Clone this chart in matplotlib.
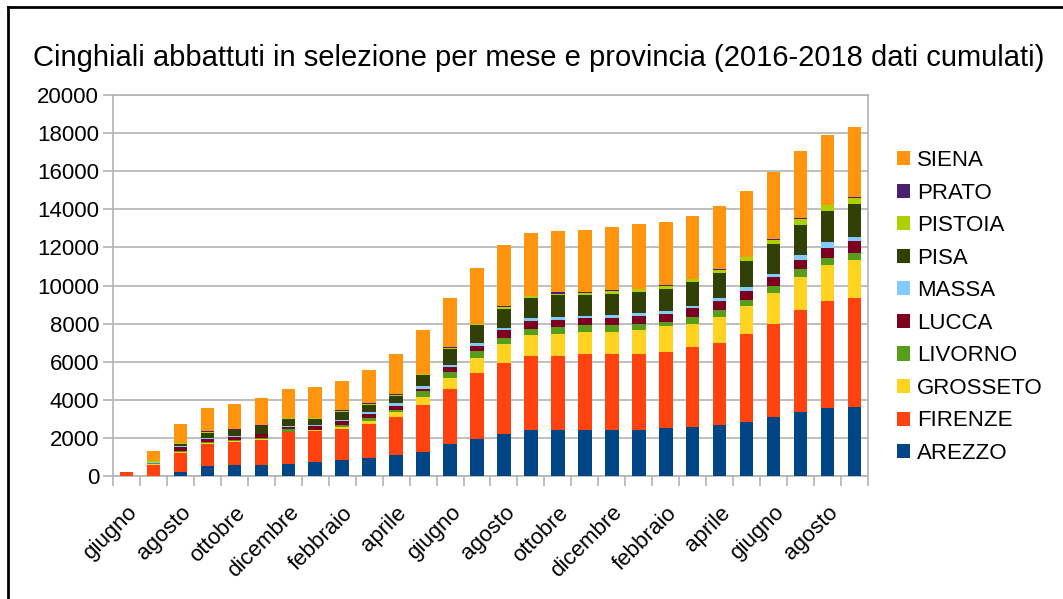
import matplotlib.pyplot as plt
import numpy as np

plt.rcParams['font.family'] = ['Liberation Sans', 'DejaVu Sans']

# Data (cumulated kills per month, June 2016 -> September 2018)
mesi = ['giugno', 'luglio', 'agosto', 'settembre', 'ottobre', 'novembre', 'dicembre',
        'gennaio', 'febbraio', 'marzo', 'aprile', 'maggio',
        'giugno', 'luglio', 'agosto', 'settembre', 'ottobre', 'novembre', 'dicembre',
        'gennaio', 'febbraio', 'marzo', 'aprile', 'maggio',
        'giugno', 'luglio', 'agosto', 'settembre']

arezzo = [0, 0, 230, 510, 580, 580, 640, 750, 830, 920, 1110, 1270, 1660, 1930, 2220, 2400,
          2400, 2400, 2400, 2400, 2500, 2590, 2680, 2820, 3100, 3380, 3560, 3640]
firenze = [200, 600, 1000, 1160, 1210, 1300, 1650, 1590, 1630, 1810, 2000, 2480, 2890, 3460, 3720, 3890,
           3890, 3990, 3990, 3990, 4000, 4170, 4320, 4620, 4890, 5340, 5630, 5690]
grosseto = [0, 20, 40, 80, 60, 60, 40, 50, 90, 140, 230, 400, 620, 830, 980, 1100,
            1190, 1180, 1180, 1260, 1350, 1240, 1370, 1460, 1640, 1720, 1900, 2020]
livorno = [0, 40, 50, 50, 50, 80, 130, 50, 140, 180, 140, 300, 290, 350, 350, 350,
           350, 350, 350, 350, 240, 370, 370, 350, 350, 440, 350, 350]
lucca = [0, 20, 210, 150, 130, 180, 110, 160, 210, 230, 210, 140, 280, 260, 380, 400,
         370, 360, 360, 390, 390, 470, 460, 470, 490, 470, 550, 650]
massa = [0, 60, 20, 50, 70, 30, 80, 100, 40, 70, 120, 110, 90, 170, 110, 140,
         170, 110, 160, 170, 190, 90, 170, 180, 140, 260, 270, 170]
pisa = [0, 20, 150, 260, 320, 370, 340, 290, 440, 380, 410, 600, 860, 930, 1000, 1040,
        1140, 1100, 1140, 1110, 1170, 1260, 1310, 1360, 1580, 1580, 1660, 1750]
pistoia = [0, 20, 50, 70, 20, 30, 40, 50, 50, 60, 50, 60, 50, 60, 120, 120,
           70, 140, 130, 130, 140, 130, 140, 220, 200, 310, 280, 310]
prato = [0, 0, 0, 10, 30, 40, 10, 20, 10, 20, 10, 20, 10, 10, 20, 20,
         90, 40, 40, 40, 40, 40, 40, 40, 40, 40, 40, 40]
siena = [0, 520, 1000, 1240, 1300, 1450, 1510, 1600, 1570, 1760, 2100, 2260, 2620, 2910, 3220, 3290,
         3170, 3250, 3300, 3380, 3290, 3270, 3330, 3450, 3510, 3540, 3680, 3720]

province = ['AREZZO', 'FIRENZE', 'GROSSETO', 'LIVORNO', 'LUCCA', 'MASSA', 'PISA', 'PISTOIA', 'PRATO', 'SIENA']
serie = [arezzo, firenze, grosseto, livorno, lucca, massa, pisa, pistoia, prato, siena]
colori = ['#004586', '#ff420e', '#ffd320', '#579d1c', '#7e0021', '#83caff',
          '#314004', '#aecf00', '#4b1f6f', '#ff950e']

fig = plt.figure(figsize=(10.63, 5.99), dpi=100)
ax = fig.add_axes([113 / 1063, 1 - 476 / 599, 755 / 1063, 381 / 599])

x = np.arange(len(mesi))
bottom = np.zeros(len(mesi))
handles = []
for nome, vals, col in zip(province, serie, colori):
    vals = np.array(vals, dtype=float)
    b = ax.bar(x, vals, 0.5, bottom=bottom, color=col, label=nome, zorder=3)
    handles.append(b)
    bottom += vals

ax.set_xlim(-0.5, len(mesi) - 0.5)
ax.set_ylim(0, 20000)
ax.set_yticks(np.arange(0, 20001, 2000))
ax.grid(axis='y', color='#b3b3b3', linewidth=1.2, zorder=0)
for s in ax.spines.values():
    s.set_color('#b3b3b3')
    s.set_linewidth(1.2)

# tick marks on category boundaries, labels every two months
ax.set_xticks(np.arange(-0.5, len(mesi), 1))
ax.set_xticklabels([])
ax.set_xticks(x[::2], minor=True)
ax.set_xticklabels(mesi[::2], minor=True, rotation=45, ha='right', rotation_mode='anchor')
ax.tick_params(axis='x', which='minor', length=0, pad=19, labelsize=16)
ax.tick_params(axis='x', which='major', length=7, color='#b3b3b3', width=1.2)
ax.tick_params(axis='y', length=7, color='#b3b3b3', width=1.2, labelsize=16, pad=3)

fig.text(33 / 1063, 1 - 58 / 599, 'Cinghiali abbattuti in selezione per mese e provincia (2016-2018 dati cumulati)',
         fontsize=21, ha='left', va='center')

ax.legend(handles[::-1], province[::-1], loc='center left', bbox_to_anchor=(877 / 1063, 1 - 307 / 599),
          bbox_transform=fig.transFigure, frameon=False, fontsize=16, labelspacing=0.52,
          handlelength=0.6, handleheight=0.6, handletextpad=0.3)

# black frame of the original screenshot
fig.add_artist(plt.Line2D([8 / 1063, 8 / 1063], [0, 1 - 7 / 599], color='black', lw=2, transform=fig.transFigure))
fig.add_artist(plt.Line2D([8 / 1063, 1], [1 - 7 / 599, 1 - 7 / 599], color='black', lw=2, transform=fig.transFigure))

plt.savefig('out.png', dpi=100)
plt.close()
